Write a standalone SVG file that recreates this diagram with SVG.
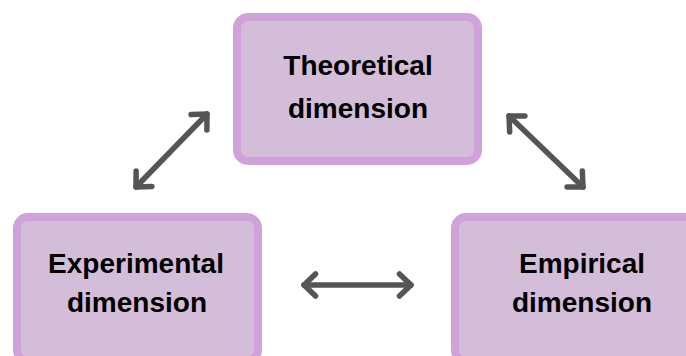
<svg xmlns="http://www.w3.org/2000/svg" width="686" height="356" viewBox="0 0 686 356">
<defs>
<style>
.box{fill:#d4bdd8;stroke:#cfa3da;stroke-width:8}
.lbl{font-family:"Liberation Sans",Arial,sans-serif;font-weight:bold;font-size:28px;fill:#000;text-anchor:middle}
.conn{stroke:#555;stroke-width:5.5;fill:none;stroke-linecap:round}
</style>
<marker id="chev" markerUnits="userSpaceOnUse" viewBox="-18 -15 22 30" markerWidth="22" markerHeight="30" refX="0" refY="0" orient="auto-start-reverse">
<path d="M-11.5,-11 L0,0 L-11.5,11" fill="none" stroke="#555" stroke-width="5.5" stroke-linecap="round" stroke-linejoin="round"/>
</marker>
</defs>
<rect width="686" height="356" fill="#fff"/>
<g id="theoretical">
<rect class="box" x="237" y="17" width="241" height="144" rx="11"/>
<text class="lbl" x="358" y="75">Theoretical</text>
<text class="lbl" x="358" y="118">dimension</text>
</g>
<g id="experimental">
<rect class="box" x="17" y="217" width="241" height="144" rx="11"/>
<text class="lbl" x="136" y="273">Experimental</text>
<text class="lbl" x="137" y="312">dimension</text>
</g>
<g id="empirical">
<rect class="box" x="455" y="217" width="241" height="144" rx="11"/>
<text class="lbl" x="582" y="273">Empirical</text>
<text class="lbl" x="582" y="312">dimension</text>
</g>
<g id="connectors">
<line class="conn" x1="136" y1="187" x2="207" y2="114" marker-start="url(#chev)" marker-end="url(#chev)"/>
<line class="conn" x1="509" y1="116" x2="583" y2="187" marker-start="url(#chev)" marker-end="url(#chev)"/>
<line class="conn" x1="304" y1="285" x2="411" y2="285" marker-start="url(#chev)" marker-end="url(#chev)"/>
</g>
</svg>
